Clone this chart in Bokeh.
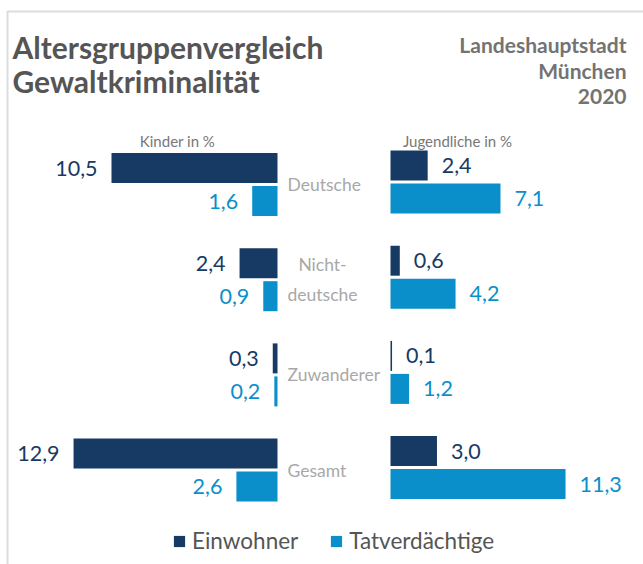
from bokeh.plotting import figure
from bokeh.models import Range1d, Label, BoxAnnotation, Legend, LegendItem, ColumnDataSource
from bokeh.core.properties import value
from bokeh.embed import file_html
from bokeh.resources import INLINE

# ---- data ----
categories = ["Deutsche", "Nicht-\ndeutsche", "Zuwanderer", "Gesamt"]
kinder_einwohner = [10.5, 2.4, 0.3, 12.9]
kinder_tatverdaechtige = [1.6, 0.9, 0.2, 2.6]
jugend_einwohner = [2.4, 0.6, 0.1, 3.0]
jugend_tatverdaechtige = [7.1, 4.2, 1.2, 11.3]
series_names = ["Einwohner", "Tatverdächtige"]

def fmt(v):
    return f"{v:.1f}".replace(".", ",")

# ---- layout ----
W, H = 643, 564
DARK = "#173a64"
LIGHT = "#0b8fca"
GREY = "#555555"
FONT = "Lato"

l_scale = 15.81
l_zero = 277
r_scale = 15.49
r_zero = 390

p = figure(width=W, height=H, output_backend="svg", toolbar_location=None,
           x_range=Range1d(l_zero / l_scale, l_zero / l_scale - W / l_scale),
           y_range=Range1d(H, 0), min_border=0)
p.extra_x_ranges = {"right": Range1d(-r_zero / r_scale, -r_zero / r_scale + W / r_scale)}
p.axis.visible = False
p.grid.visible = False
p.outline_line_color = None
p.background_fill_color = "white"

# frame (left & top border)
p.add_layout(BoxAnnotation(left=7, right=W + 20, bottom=-20, top=H - 11,
                           left_units="screen", right_units="screen",
                           bottom_units="screen", top_units="screen",
                           fill_alpha=0, line_color="#8a8a8a", line_width=2))

step = 95.2
left_centers = [184 + i * step for i in range(len(categories))]
right_centers = [181.5 + i * step for i in range(len(categories))]
half = 16.5
bh = 30

src_l = ColumnDataSource(dict(
    y_e=[c - half for c in left_centers], y_t=[c + half for c in left_centers],
    ke=kinder_einwohner, kt=kinder_tatverdaechtige,
    ke_lab=[fmt(v) for v in kinder_einwohner], kt_lab=[fmt(v) for v in kinder_tatverdaechtige]))
src_r = ColumnDataSource(dict(
    y_e=[c - half for c in right_centers], y_t=[c + half for c in right_centers],
    je=jugend_einwohner, jt=jugend_tatverdaechtige,
    je_lab=[fmt(v) for v in jugend_einwohner], jt_lab=[fmt(v) for v in jugend_tatverdaechtige]))

r_e = p.hbar(y="y_e", left=0, right="ke", height=bh, source=src_l, fill_color=DARK, line_color=None)
r_t = p.hbar(y="y_t", left=0, right="kt", height=bh, source=src_l, fill_color=LIGHT, line_color=None)
p.hbar(y="y_e", left=0, right="je", height=bh, source=src_r, fill_color=DARK, line_color=None, x_range_name="right")
p.hbar(y="y_t", left=0, right="jt", height=bh, source=src_r, fill_color=LIGHT, line_color=None, x_range_name="right")

vfs = "21.5px"
p.text(x="ke", y="y_e", text="ke_lab", source=src_l, x_offset=-14, text_align="right",
       text_baseline="middle", text_color=DARK, text_font=value(FONT), text_font_size=vfs)
p.text(x="kt", y="y_t", text="kt_lab", source=src_l, x_offset=-14, text_align="right",
       text_baseline="middle", text_color=LIGHT, text_font=value(FONT), text_font_size=vfs)
p.text(x="je", y="y_e", text="je_lab", source=src_r, x_offset=14, text_align="left",
       text_baseline="middle", text_color=DARK, text_font=value(FONT), text_font_size=vfs,
       x_range_name="right")
p.text(x="jt", y="y_t", text="jt_lab", source=src_r, x_offset=14, text_align="left",
       text_baseline="middle", text_color=LIGHT, text_font=value(FONT), text_font_size=vfs,
       x_range_name="right")

# category labels
single = [i for i, c in enumerate(categories) if "\n" not in c]
multi = [i for i, c in enumerate(categories) if "\n" in c]
src_c1 = ColumnDataSource(dict(x=[0] * len(single), y=[left_centers[i] for i in single],
                               t=[categories[i] for i in single]))
src_c2 = ColumnDataSource(dict(x=[0] * len(multi), y=[left_centers[i] for i in multi],
                               t=[categories[i] for i in multi]))
p.text(x="x", y="y", text="t", source=src_c1, x_offset=10, text_align="left", text_baseline="middle",
       text_color="#a8a8a8", text_font=value(FONT), text_font_size="17.5px")
p.text(x="x", y="y", text="t", source=src_c2, x_offset=45, text_align="center", text_baseline="middle",
       text_color="#a8a8a8", text_font=value(FONT), text_font_size="17.5px", text_line_height=1.45)

# titles
def lab(text, x, y_top, size, align="left", bold=False, color=GREY):
    p.add_layout(Label(x=x, y=H - y_top, x_units="screen", y_units="screen", text=text,
                       text_align=align, text_baseline="middle", text_font=FONT,
                       text_font_size=size, text_font_style="bold" if bold else "normal",
                       text_color=color))

lab("Altersgruppenvergleich", 12, 46, "30px", bold=True)
lab("Gewaltkriminalität", 12, 80, "30px", bold=True)
lab("Landeshauptstadt", 626, 44, "21px", align="right", bold=True, color="#737373")
lab("München", 626, 70, "21px", align="right", bold=True, color="#737373")
lab("2020", 626, 96, "21px", align="right", bold=True, color="#737373")
lab("Kinder in %", 177, 140, "15px", align="center", color="#777777")
lab("Jugendliche in %", 457, 140, "15px", align="center", color="#777777")

legend = Legend(items=[LegendItem(label=series_names[0], renderers=[r_e]),
                       LegendItem(label=series_names[1], renderers=[r_t])],
                orientation="horizontal", location=(172, 10), glyph_width=14, glyph_height=14,
                label_standoff=6, spacing=31, padding=0, margin=0,
                border_line_color=None, background_fill_alpha=0,
                label_text_font=FONT, label_text_font_size="22.5px", label_text_color=GREY)
p.add_layout(legend)

open("out.html", "w").write(file_html(p, INLINE))
